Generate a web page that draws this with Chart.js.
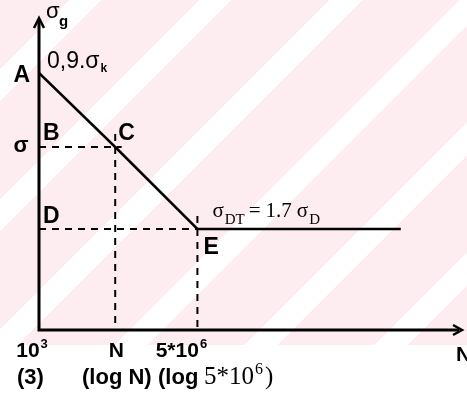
<!DOCTYPE html>
<html>
<head>
<meta charset="utf-8">
<script src="https://cdn.jsdelivr.net/npm/chart.js@4"></script>
<style>
  html, body { margin: 0; padding: 0; background: #fff; }
  #wrap {
    position: relative;
    width: 467px;
    height: 412px;
    background:
      linear-gradient(to bottom, rgba(255,255,255,0) 0, rgba(255,255,255,0) 345px, #fff 345px),
      repeating-linear-gradient(135deg, #fdedf0 0, #fdedf0 49px, #fff 49px, #fff 72px, #fdedf0 72px, #fdedf0 92px);
  }
</style>
</head>
<body>
<div id="wrap"><canvas id="myChart"></canvas></div>
<script>
// S-N (Woehler) line: x = log N, y = sigma_g
const logN = [3, 4.78, 6.7, 11.45];     // A, C, E, end of the endurance line
const sigmaG = [257, 183, 101, 101];
const guidePoints = [1, 2];             // C and E get dashed guide lines
const xTickValues = [3, 4.78, 6.7];
const xTickLabels = ['10^3', 'N', '5*10^6'];
const captionParts = ['(3)', '(log N)', '(log', '5*10^6)'];

const SANS = '"Liberation Sans", Arial, sans-serif';
const SERIF = '"Liberation Serif", "Times New Roman", serif';

// draws text where "^x" makes the single char x a superscript; returns width
function txt(ctx, str, x, y, size, family, align, weight) {
    weight = weight || '';
    const supSize = Math.round(size * 0.62);
    const runs = [];
    const bits = str.split('^');
    runs.push({ s: bits[0], sup: false });
    for (let i = 1; i < bits.length; i++) {
        runs.push({ s: bits[i].charAt(0), sup: true });
        if (bits[i].length > 1) runs.push({ s: bits[i].slice(1), sup: false });
    }
    let total = 0;
    runs.forEach(r => {
        ctx.font = weight + ' ' + (r.sup ? supSize : size) + 'px ' + family;
        r.w = ctx.measureText(r.s).width + (r.sup ? 3 : 0);
        total += r.w;
    });
    let x0 = x;
    if (align === 'center') x0 = x - total / 2;
    if (align === 'right') x0 = x - total;
    ctx.textAlign = 'left';
    ctx.textBaseline = 'alphabetic';
    runs.forEach(r => {
        ctx.font = weight + ' ' + (r.sup ? supSize : size) + 'px ' + family;
        ctx.fillText(r.s, r.sup ? x0 + 1 : x0, r.sup ? y - size * 0.42 : y);
        x0 += r.w;
    });
    return total;
}

const sketch = {
    id: 'sketch',
    beforeDatasetsDraw(chart) {
        const ctx = chart.ctx, a = chart.chartArea;
        ctx.save();
        ctx.strokeStyle = '#000';
        ctx.lineWidth = 3;
        ctx.beginPath();
        ctx.moveTo(a.left, a.top + 3);
        ctx.lineTo(a.left, a.bottom);
        ctx.lineTo(a.right - 3, a.bottom);
        ctx.stroke();
        // arrow heads
        ctx.lineWidth = 2.5;
        ctx.beginPath();
        ctx.moveTo(a.left - 5, a.top + 10);
        ctx.lineTo(a.left, a.top);
        ctx.lineTo(a.left + 5, a.top + 10);
        ctx.moveTo(a.right - 9, a.bottom - 5);
        ctx.lineTo(a.right, a.bottom);
        ctx.lineTo(a.right - 9, a.bottom + 5);
        ctx.stroke();
        ctx.restore();
    },
    afterDatasetsDraw(chart) {
        const ctx = chart.ctx, a = chart.chartArea;
        const xs = chart.scales.x, ys = chart.scales.y;
        const px = i => xs.getPixelForValue(logN[i]);
        const py = i => ys.getPixelForValue(sigmaG[i]);
        const B = 'bold';
        ctx.save();
        ctx.fillStyle = '#000';

        // axis titles
        txt(ctx, '\u03c3', a.left + 7, a.top, 22, SANS);
        ctx.font = 'bold 15px ' + SANS;
        ctx.fillText('g', a.left + 20, a.top + 8);
        txt(ctx, 'N', a.right - 6, a.bottom + 31, 21, SANS, 'left', B);

        // point labels
        txt(ctx, 'A', a.left - 9, py(0) + 9, 23, SANS, 'right', B);
        const w = txt(ctx, '0,9.\u03c3', a.left + 8, py(0) - 5, 23, SANS);
        ctx.font = 'bold 12px ' + SANS;
        ctx.fillText('k', a.left + 9 + w, py(0) - 1);
        txt(ctx, 'B', a.left + 4, py(1) - 7, 23, SANS, 'left', B);
        txt(ctx, '\u03c3', a.left - 18, py(1) + 5, 22, SANS, 'center', B);
        txt(ctx, 'C', px(1) + 3, py(1) - 7, 23, SANS, 'left', B);
        txt(ctx, 'D', a.left + 4, py(2) - 6, 23, SANS, 'left', B);
        txt(ctx, 'E', px(2) + 6, py(2) + 25, 23, SANS, 'left', B);

        // endurance limit label
        let x = px(2) + 15;
        const yb = py(2) - 12;
        x += txt(ctx, '\u03c3', x, yb, 21, SERIF) + 1;
        x += txt(ctx, 'DT', x, yb + 7, 15, SERIF) + 4;
        x += txt(ctx, '=', x, yb, 21, SERIF) + 5;
        x += txt(ctx, '1.7', x, yb, 21, SERIF) + 5;
        x += txt(ctx, '\u03c3', x, yb, 21, SERIF) + 1;
        txt(ctx, 'D', x, yb + 7, 15, SERIF);

        // tick labels
        const nudge = [-6, 1, -15];
        xTickValues.forEach((v, i) => {
            txt(ctx, xTickLabels[i], xs.getPixelForValue(v) + nudge[i], a.bottom + 27, 21, SANS, 'center', B);
        });

        // caption
        const capX = [17, 82, 158, 204];
        captionParts.forEach((s, i) => {
            if (i === 3) txt(ctx, s, capX[i], a.bottom + 54, 25, SERIF);
            else txt(ctx, s, capX[i], a.bottom + 54, 22, SANS, 'left', B);
        });
        ctx.restore();
    }
};

const curve = logN.map((v, i) => ({ x: v, y: sigmaG[i] }));
const guideSets = [];
guidePoints.forEach(i => {
    guideSets.push({
        data: [{ x: logN[0], y: sigmaG[i] }, { x: logN[i] + 0.15, y: sigmaG[i] }],
        borderColor: '#000', borderWidth: 2, borderDash: [7, 6], pointRadius: 0
    });
    guideSets.push({
        data: [{ x: logN[i], y: sigmaG[i] + 13 }, { x: logN[i], y: 0 }],
        borderColor: '#000', borderWidth: 2, borderDash: [7, 6], pointRadius: 0
    });
});

const config = {
    type: 'line',
    data: {
        datasets: [{
            data: curve,
            borderColor: '#000',
            borderWidth: 2.5,
            pointRadius: 0,
            tension: 0
        }].concat(guideSets)
    },
    options: {
        responsive: true,
        maintainAspectRatio: false,
        animation: false,
        layout: { padding: { left: 39, top: 18, right: 5, bottom: 82 } },
        scales: {
            x: { type: 'linear', min: 3, max: 12.88, display: false },
            y: { min: 0, max: 312, display: false }
        },
        plugins: { legend: { display: false }, tooltip: { enabled: false } }
    },
    plugins: [sketch]
};

const myChart = new Chart(document.getElementById('myChart'), config);
</script>
</body>
</html>
